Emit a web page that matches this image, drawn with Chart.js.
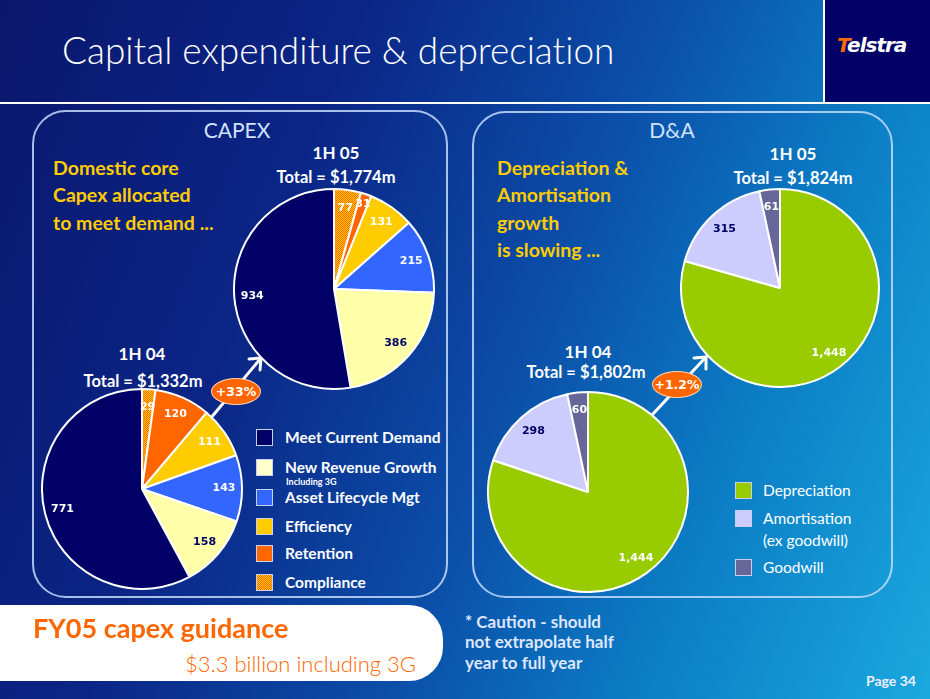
<!DOCTYPE html>
<html>
<head>
<meta charset="utf-8">
<script src="https://cdn.jsdelivr.net/npm/chart.js@4"></script>
<style>
  html,body{margin:0;padding:0;}
  body{width:930px;height:699px;overflow:hidden;font-family:Lato,"Open Sans",sans-serif;}
  #slide{position:relative;width:930px;height:699px;overflow:hidden;
    background:linear-gradient(112deg,#0a176c 0%,#0b2586 30%,#0b4ea8 55%,#0b7cc4 75%,#1aa9de 100%);}
  .abs{position:absolute;white-space:nowrap;}
  .ctr{transform:translate(-50%,-50%);}
  .mid{transform:translateY(-50%);}
  .panel{position:absolute;border:2px solid rgba(196,218,250,0.85);border-radius:34px;box-sizing:border-box;}
  .title{left:62px;top:49px;font-size:37px;font-weight:300;color:#fff;font-variant-ligatures:none;}
  .yellow{color:#ffcc00;font-size:19.5px;font-weight:700;}
  .hdr{color:#cfe2ff;font-size:21px;font-weight:400;}
  .per{color:#fff;font-size:17px;font-weight:700;}
  .tot{color:#fff;font-size:16.5px;font-weight:700;}
  .leg{color:#fff;font-size:15.5px;font-weight:700;}
  .sw{position:absolute;width:15px;height:15px;border:1px solid #c8d0ee;}
  .badge{position:absolute;width:50px;height:27px;border-radius:50%;background:#ff6600;border:1px solid #ffd0b0;
    color:#fff;font:bold 12.5px "DejaVu Sans",sans-serif;display:flex;align-items:center;justify-content:center;box-sizing:border-box;}
  canvas{position:absolute;}
</style>
</head>
<body>
<div id="slide">
  <!-- header -->
  <div class="abs" style="left:825px;top:0;width:105px;height:102px;background:#000066;"></div>
  <div class="abs" style="left:823px;top:0;width:2px;height:103px;background:#fff;"></div>
  <div class="abs" style="left:0;top:102px;width:930px;height:2px;background:#fff;"></div>
  <div class="abs title mid">Capital expenditure &amp; depreciation</div>
  <div class="abs mid" style="left:837px;top:45px;font:oblique bold 20px 'DejaVu Sans',sans-serif;color:#fff;letter-spacing:-1px;"><span style="color:#ff6a00">T</span>elstra</div>

  <!-- panels -->
  <div class="panel" style="left:32px;top:110px;width:416px;height:488px;"></div>
  <div class="panel" style="left:472px;top:111px;width:421px;height:487px;"></div>

  <div class="abs ctr hdr" style="left:237px;top:129px;">CAPEX</div>
  <div class="abs ctr hdr" style="left:672px;top:129px;">D&amp;A</div>

  <div class="abs mid yellow" style="left:53px;top:167px;">Domestic core</div>
  <div class="abs mid yellow" style="left:53px;top:194px;">Capex allocated</div>
  <div class="abs mid yellow" style="left:53px;top:222px;">to meet demand ...</div>

  <div class="abs mid yellow" style="left:497px;top:167px;">Depreciation &amp;</div>
  <div class="abs mid yellow" style="left:497px;top:194px;">Amortisation</div>
  <div class="abs mid yellow" style="left:497px;top:222px;">growth</div>
  <div class="abs mid yellow" style="left:497px;top:249px;">is slowing ...</div>

  <div class="abs ctr per" style="left:336px;top:152px;">1H 05</div>
  <div class="abs ctr tot" style="left:336px;top:177px;">Total = $1,774m</div>
  <div class="abs ctr per" style="left:142px;top:353px;">1H 04</div>
  <div class="abs ctr tot" style="left:143px;top:381px;">Total = $1,332m</div>

  <div class="abs ctr per" style="left:793px;top:153px;">1H 05</div>
  <div class="abs ctr tot" style="left:793px;top:178px;">Total = $1,824m</div>
  <div class="abs ctr per" style="left:588px;top:351px;">1H 04</div>
  <div class="abs ctr tot" style="left:586px;top:372px;">Total = $1,802m</div>

  <!-- arrows -->
  <svg class="abs" style="left:0;top:0;" width="930" height="699">
    <g stroke="#fff" stroke-width="3" fill="none" stroke-linecap="round" stroke-linejoin="round">
      <line x1="210" y1="419" x2="261" y2="358"/>
      <polyline points="249,359 261,358 260,370"/>
      <line x1="652" y1="415" x2="706" y2="357"/>
      <polyline points="694,358 706,357 706,369"/>
    </g>
  </svg>
  <div class="badge" style="left:211px;top:378px;">+33%</div>
  <div class="badge" style="left:652px;top:371px;">+1.2%</div>

  <canvas id="c1" width="202" height="202" style="left:233px;top:188px;"></canvas>
  <canvas id="c2" width="202" height="202" style="left:41px;top:388px;"></canvas>
  <canvas id="c3" width="202" height="202" style="left:487px;top:391px;"></canvas>
  <canvas id="c4" width="200" height="200" style="left:680px;top:188px;"></canvas>

  <div id="legCapex"></div>
  <div id="legDa"></div>

  <!-- footer -->
  <div class="abs" style="left:-40px;top:605px;width:483px;height:76px;background:#fff;border-radius:34px;"></div>
  <div class="abs mid" style="left:33px;top:627px;color:#ff6600;font-size:27px;font-weight:700;">FY05 capex guidance</div>
  <div class="abs mid" style="right:514px;top:663px;color:#ff6600;font-size:22px;font-weight:300;">$3.3 billion including 3G</div>
  <div class="abs mid" style="left:465px;top:621px;color:#dfe6ff;font-size:17px;font-weight:700;">* Caution - should</div>
  <div class="abs mid" style="left:465px;top:641px;color:#dfe6ff;font-size:17px;font-weight:700;">not extrapolate half</div>
  <div class="abs mid" style="left:465px;top:662px;color:#dfe6ff;font-size:17px;font-weight:700;">year to full year</div>
  <div class="abs mid" style="right:14px;top:680px;color:#eef;font-size:14px;font-weight:700;">Page 34</div>
</div>

<script>
// ---- data ----
const capexCategories = ['Compliance', 'Retention', 'Efficiency', 'Asset Lifecycle Mgt', 'New Revenue Growth', 'Meet Current Demand'];
const capex1H05 = [77, 31, 131, 215, 386, 934];
const capex1H04 = [29, 120, 111, 143, 158, 771];
const daCategories = ['Depreciation', 'Amortisation', 'Goodwill'];
const da1H05 = [1448, 315, 61];
const da1H04 = [1444, 298, 60];

// ---- styles ----
function compliancePattern() {
  const c = document.createElement('canvas'); c.width = 2; c.height = 2;
  const x = c.getContext('2d');
  x.fillStyle = '#ff6600'; x.fillRect(0, 0, 2, 2);
  x.fillStyle = '#ffcc00'; x.fillRect(0, 0, 1, 1); x.fillRect(1, 1, 1, 1);
  return x.createPattern(c, 'repeat');
}
const pat = compliancePattern();
const capexColors = [pat, '#ff6600', '#ffcc00', '#3366ff', '#ffffaa', '#000066'];
const capexSwatchCss = ['repeating-conic-gradient(#ff6600 0 25%, #ffcc00 0 50%) 0 0/2px 2px', '#ff6600', '#ffcc00', '#3366ff', '#ffffcc', '#000066'];
const capexLabelColors = ['#fff', '#fff', '#fff', '#fff', '#000066', '#fff'];
const daColors = ['#99cc00', '#ccccff', '#666699'];
const daLabelColors = ['#fff', '#000066', '#fff'];

const valueLabels = {
  id: 'valueLabels',
  afterDatasetsDraw(chart, args, opts) {
    const ctx = chart.ctx;
    const ds = chart.data.datasets[0];
    const meta = chart.getDatasetMeta(0);
    const total = ds.data.reduce((a, b) => a + b, 0);
    meta.data.forEach((arc, i) => {
      const mid = (arc.startAngle + arc.endAngle) / 2;
      const f = ds.data[i] / total < 0.02 ? 0.9 : 0.82;
      const r = arc.outerRadius * f;
      ctx.save();
      ctx.font = 'bold 11px "DejaVu Sans", sans-serif';
      ctx.textAlign = 'center';
      ctx.textBaseline = 'middle';
      ctx.fillStyle = opts.colors[i];
      ctx.fillText(ds.data[i].toLocaleString('en-US'), arc.x + Math.cos(mid) * r, arc.y + Math.sin(mid) * r);
      ctx.restore();
    });
  }
};

function makePie(id, labels, data, colors, labelColors) {
  return new Chart(document.getElementById(id), {
    type: 'pie',
    data: { labels: labels, datasets: [{ data: data, backgroundColor: colors, borderColor: '#ffffff', borderWidth: 2 }] },
    options: {
      responsive: false, animation: false, devicePixelRatio: 1,
      layout: { padding: 0 },
      plugins: { legend: { display: false }, tooltip: { enabled: false }, valueLabels: { colors: labelColors } }
    },
    plugins: [valueLabels]
  });
}
makePie('c1', capexCategories, capex1H05, capexColors, capexLabelColors);
makePie('c2', capexCategories, capex1H04, capexColors, capexLabelColors);
makePie('c3', daCategories, da1H04, daColors, daLabelColors);
makePie('c4', daCategories, da1H05, daColors, daLabelColors);

// ---- legends (built from the category arrays) ----
(function () {
  const box = document.getElementById('legCapex');
  const rows = [437, 467, 497, 526, 553, 582];
  const order = capexCategories.map((c, i) => i).reverse();
  order.forEach((idx, k) => {
    const y = rows[k];
    const sw = document.createElement('div');
    sw.className = 'sw'; sw.style.left = '256px'; sw.style.top = (y - 8) + 'px';
    sw.style.background = capexSwatchCss[idx];
    box.appendChild(sw);
    const t = document.createElement('div');
    t.className = 'abs mid leg'; t.style.left = '285px'; t.style.top = y + 'px';
    t.textContent = capexCategories[idx];
    box.appendChild(t);
    if (capexCategories[idx] === 'New Revenue Growth') {
      const s = document.createElement('div');
      s.className = 'abs mid'; s.style.cssText += 'left:286px;top:481px;color:#fff;font-size:9px;font-weight:700;';
      s.textContent = 'Including 3G';
      box.appendChild(s);
    }
  });
  const dbox = document.getElementById('legDa');
  const drows = [490, 518, 567];
  daCategories.forEach((c, i) => {
    const y = drows[i];
    const sw = document.createElement('div');
    sw.className = 'sw'; sw.style.left = '735px'; sw.style.top = (y - 8) + 'px';
    sw.style.background = daColors[i];
    dbox.appendChild(sw);
    const t = document.createElement('div');
    t.className = 'abs mid leg'; t.style.left = '763px'; t.style.top = y + 'px';
    t.style.fontWeight = '400';
    t.textContent = c;
    dbox.appendChild(t);
    if (c === 'Amortisation') {
      const s = document.createElement('div');
      s.className = 'abs mid leg'; s.style.left = '763px'; s.style.top = '540px'; s.style.fontWeight = '400';
      s.textContent = '(ex goodwill)';
      dbox.appendChild(s);
    }
  });
})();
</script>
</body>
</html>
